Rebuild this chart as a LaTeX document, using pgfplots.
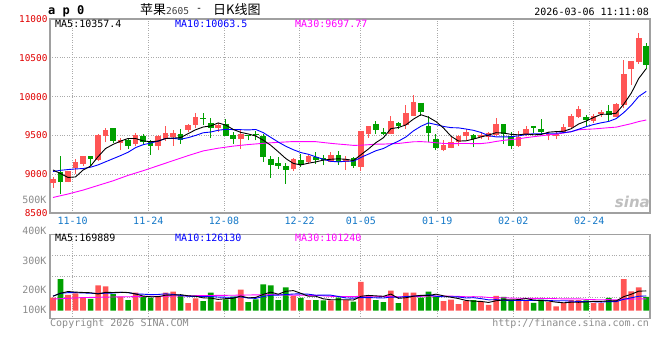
\documentclass[border=0pt]{standalone}
\usepackage{fontspec}
\setmainfont{DejaVu Sans Mono}
\newfontfamily\cjk{Noto Sans CJK SC}
\newfontfamily\sinaf{DejaVu Sans}
\usepackage{pgfplots}
\pgfplotsset{compat=1.18}
\usepackage{pgfplotstable}
\definecolor{cred}{RGB}{255,85,85}
\definecolor{cgreen}{RGB}{0,160,0}
\definecolor{gridc}{RGB}{170,170,170}
\definecolor{axc}{RGB}{160,160,160}
\definecolor{lblred}{RGB}{225,0,0}
\definecolor{lblblue}{RGB}{20,120,200}
\definecolor{txtgray}{RGB}{140,140,140}
\definecolor{mablue}{RGB}{0,0,255}
\definecolor{mamag}{RGB}{255,0,255}

% price moving averages: i MA5 MA10 MA30
\pgfplotstableread{
i m5 m10 m30
0 9055 9035 8700
1 9008 9050 nan
2 8958 9060 8745
3 8965 9068 nan
4 9053 9073 8795
5 9105.2 9090 nan
6 9225.8 9120 8855
7 9331 9160 nan
8 9384 9200 8915
9 9426.6 9239.8 nan
10 9460.6 9282.9 8985
11 9459.6 9342.7 nan
12 9429.6 9380.3 9045
13 9418.4 9401.2 nan
14 9427 9426.8 9110
15 9459.6 9460.1 nan
16 9465.6 9462.6 9175
17 9471.6 9450.6 nan
18 9523.8 9471.1 9240
19 9572.6 9499.8 nan
20 9608.4 9534 9300
21 9622 9543.8 nan
22 9660.6 9566.1 9335
23 9633.2 9578.5 nan
24 9576.8 9574.7 9362
25 9539.2 9573.8 nan
26 9518.8 9570.4 9382
27 9492.2 9576.4 nan
28 9438.4 9535.8 9398
29 9372.6 9474.7 9404.8
30 9288.8 9414 9410.3
31 9201.6 9360.2 9415.6
32 9139.2 9315.7 9420.7
33 9119.6 9279 9419.6
34 9141.8 9257.2 9419.6
35 9158.2 9223.5 9419.1
36 9182 9191.8 9408.3
37 9192.4 9165.8 9397.6
38 9198.4 9159 9388.6
39 9192.4 9167.1 9380.5
40 9176 9167.1 9371.7
41 9250.4 9216.2 9373.4
42 9324.6 9258.5 9380.1
43 9406.6 9302.5 9386.7
44 9469.8 9331.1 9387.7
45 9587.8 9381.9 9393.1
46 9601.6 9426 9396.1
47 9635.8 9480.2 9407.5
48 9710.2 9558.4 9417.7
49 9766.6 9618.2 9420
50 9734.2 9661 9414
51 9677.8 9639.7 9405.4
52 9595 9615.4 9396.5
53 9489.8 9600 9393.8
54 9427.4 9597 9395.1
55 9430 9582.1 9395.8
56 9453 9565.4 9394.4
57 9480.2 9537.6 9394.5
58 9504.2 9497 9404.8
59 9535 9481.2 9422.2
60 9530.6 9480.3 9436.1
61 9513.4 9483.2 9446.4
62 9507.6 9493.9 9455.9
63 9518.6 9511.4 9471.3
64 9508.2 9521.6 9483.2
65 9511.6 9521.1 9495
66 9541.6 9527.5 9506.3
67 9549.2 9528.4 9515.4
68 9553.4 9536 9530.5
69 9585.8 9547 9548.8
70 9647.2 9579.4 9573.6
71 9684.6 9613.1 9578.7
72 9731.4 9640.3 9583.2
73 9771.4 9662.4 9591.3
74 9774 9679.9 9599.5
75 9785.8 9716.5 9606.6
76 9902.4 9793.5 9628.8
77 10043.6 9887.5 9651.2
78 10233.4 10002.4 9678.5
79 10361 10067.5 9698.6
}\pma

% volume (thousands), up days
\pgfplotstableread{
i v
0 113
2 137
3 149
4 113
6 218
7 209
9 122
11 155
14 124
15 155
16 164
18 65
19 106
22 77
25 182
32 128
34 92
37 88
39 92
41 248
42 128
45 173
47 155
48 155
52 83
53 95
54 56
55 83
57 74
58 50
59 128
62 88
63 92
66 74
67 38
68 65
69 92
70 92
72 65
73 65
75 92
76 272
77 167
78 200
}\redvol

% volume (thousands), down days
\pgfplotstableread{
i v
1 272
5 101
8 142
10 92
12 119
13 113
17 133
20 83
21 155
23 97
24 122
26 74
27 97
28 227
29 218
30 92
31 200
33 110
35 92
36 88
38 113
40 77
43 92
44 74
46 65
49 113
50 164
51 124
56 92
60 119
61 92
64 68
65 95
71 88
74 110
79 119
}\greenvol

% volume moving averages (thousands)
\pgfplotstableread{
i m5 m10 m30
0 125 125 100
1 150 150 nan
2 165 155 nan
3 160 155 nan
4 156.8 153 113
5 154.4 150 nan
6 143.6 148 nan
7 158 150 nan
8 156.6 152 118
9 158.4 157.6 nan
10 156.6 155.5 nan
11 144 143.8 nan
12 126 142 122
13 120.2 138.4 nan
14 120.6 139.5 nan
15 133.2 144.9 nan
16 135 139.5 126
17 137.8 131.9 nan
18 128.2 124.2 nan
19 124.6 122.6 nan
20 110.2 121.7 130
21 108.4 121.7 nan
22 97.2 117.5 nan
23 103.6 115.9 nan
24 106.8 115.7 133
25 126.6 118.4 nan
26 110.4 109.4 nan
27 114.4 105.8 nan
28 140.4 122 137
29 159.6 133.2 137.8
30 141.6 134.1 137.1
31 166.8 138.6 134.7
32 173 143.7 134.4
33 149.6 145 133.1
34 124.4 142 132.4
35 124.4 133 132.1
36 102 134.4 127.8
37 94 133.5 123.7
38 94.6 122.1 122.8
39 94.6 109.5 121.8
40 91.6 108 121.3
41 123.6 112.8 124.4
42 131.6 112.8 124.7
43 127.4 111 124
44 123.8 109.2 122.3
45 143 117.3 122.9
46 106.4 115 119.6
47 111.8 121.7 120.3
48 124.4 125.9 123.3
49 132.2 128 123.6
50 130.4 136.7 126.3
51 142.2 124.3 125.2
52 127.8 119.8 125.4
53 115.8 120.1 125.4
54 104.4 118.3 123.2
55 88.2 109.3 119.9
56 81.8 112 120.5
57 80 103.9 119.7
58 71 93.4 113.8
59 85.4 94.9 110.8
60 92.6 90.4 111.7
61 92.6 87.2 108.1
62 95.4 87.7 106.8
63 103.8 87.4 106.2
64 91.8 88.6 105.4
65 87 89.8 105.5
66 83.4 88 105
67 73.4 84.4 103.3
68 68 85.9 101.7
69 72.8 82.3 101.7
70 72.2 79.6 102.2
71 75 79.2 96.9
72 80.4 76.9 94.8
73 80.4 74.2 93.9
74 84 78.4 95.1
75 84 78.1 92.4
76 120.8 97.9 99.3
77 141.2 110.8 99.7
78 168.2 124.3 101.2
79 170 127 101.4
}\vma

\pgfplotsset{
  panel/.style={
    scale only axis, width=600pt, anchor=south west,
    xmin=-0.4, xmax=79.5,
    scaled x ticks=false, scaled y ticks=false,
    axis line style={axc, line width=1.2pt},
    grid=major, major grid style={gridc, dotted, line width=0.8pt},
    major tick length=0pt, tick style={draw=none},
    xtick={2.62,12.69,22.77,32.84,41.0,51.17,61.29,71.41},
  },
}

\begin{document}
\begin{tikzpicture}
\fill[white] (0pt,0pt) rectangle (660pt,360pt);
\path[use as bounding box] (0pt,0pt) rectangle (660pt,360pt);

% ---------------- price panel ----------------
\begin{axis}[panel, at={(50pt,147pt)}, height=194pt,
  ymin=8500, ymax=11000,
  ytick={8500,9000,9500,10000,10500,11000},
  yticklabels={8500,9000,9500,10000,10500,11000},
  xticklabels={11-10,11-24,12-08,12-22,01-05,01-19,02-02,02-24},
  xticklabel style={font=\fontsize{10}{10}\selectfont, text=lblblue, yshift=-0.5pt},
  yticklabel style={font=\fontsize{9.4}{10}\selectfont, text=lblred, xshift=1pt},
  unbounded coords=jump]
% wicks of up (red) candles
\addplot[cred, line width=1pt] coordinates {
(0,8825)(0,8970)(0,nan) (2,8895)(2,9045)(2,nan) (3,9000)(3,9192)(3,nan) (4,9105)(4,9240)(4,nan)
(6,9165)(6,9520)(6,nan) (7,9414)(7,9594)(7,nan) (9,9308)(9,9466)(9,nan) (11,9359)(11,9530)(11,nan)
(14,9308)(14,9508)(14,nan) (15,9427)(15,9615)(15,nan) (16,9367)(16,9573)(16,nan) (18,9543)(18,9650)(18,nan)
(19,9594)(19,9795)(19,nan) (22,9543)(22,9658)(22,nan) (25,9325)(25,9581)(25,nan) (32,9043)(32,9209)(32,nan)
(34,9137)(34,9244)(34,nan) (37,9154)(37,9286)(37,nan) (39,9051)(39,9239)(39,nan) (41,9043)(41,9551)(41,nan)
(42,9470)(42,9615)(42,nan) (45,9513)(45,9748)(45,nan) (47,9581)(47,9897)(47,nan) (48,9748)(48,10026)(48,nan)
(52,9295)(52,9436)(52,nan) (53,9333)(53,9479)(53,nan) (54,9363)(54,9508)(54,nan) (55,9444)(55,9585)(55,nan)
(57,9457)(57,9543)(57,nan) (58,9444)(58,9543)(58,nan) (59,9491)(59,9718)(59,nan) (62,9350)(62,9551)(62,nan)
(63,9487)(63,9615)(63,nan) (66,9436)(66,9547)(66,nan) (67,9453)(67,9538)(67,nan) (68,9538)(68,9649)(68,nan)
(69,9594)(69,9777)(69,nan) (70,9730)(70,9879)(70,nan) (72,9666)(72,9777)(72,nan) (73,9743)(73,9828)(73,nan)
(75,9734)(75,9921)(75,nan) (76,9849)(76,10474)(76,nan) (77,10147)(77,10457)(77,nan) (78,10423)(78,10823)(78,nan)
};
% bodies of up candles: open -> close
\addplot[cred, line width=5.6pt] coordinates {
(0,8885)(0,8936)(0,nan) (2,8902)(2,9038)(2,nan) (3,9080)(3,9158)(3,nan) (4,9137)(4,9231)(4,nan)
(6,9180)(6,9505)(6,nan) (7,9491)(7,9564)(7,nan) (9,9406)(9,9444)(9,nan) (11,9389)(11,9500)(11,nan)
(14,9363)(14,9487)(14,nan) (15,9457)(15,9530)(15,nan) (16,9479)(16,9530)(16,nan) (18,9568)(18,9628)(18,nan)
(19,9632)(19,9731)(19,nan) (22,9598)(22,9637)(22,nan) (25,9449)(25,9521)(25,nan) (32,9064)(32,9192)(32,nan)
(34,9154)(34,9231)(34,nan) (37,9162)(37,9244)(37,nan) (39,9162)(39,9201)(39,nan) (41,9094)(41,9551)(41,nan)
(42,9521)(42,9615)(42,nan) (45,9521)(45,9692)(45,nan) (47,9628)(47,9786)(47,nan) (48,9756)(48,9936)(48,nan)
(52,9308)(52,9372)(52,nan) (53,9338)(53,9410)(53,nan) (54,9410)(54,9487)(54,nan) (55,9491)(55,9543)(55,nan)
(57,9479)(57,9508)(57,nan) (58,9479)(58,9530)(58,nan) (59,9500)(59,9641)(59,nan) (62,9363)(62,9479)(62,nan)
(63,9500)(63,9585)(63,nan) (66,9500)(66,9517)(66,nan) (67,9487)(67,9517)(67,nan) (68,9547)(68,9606)(68,nan)
(69,9602)(69,9751)(69,nan) (70,9743)(70,9845)(70,nan) (72,9683)(72,9751)(72,nan) (73,9781)(73,9806)(73,nan)
(75,9743)(75,9904)(75,nan) (76,9892)(76,10287)(76,nan) (77,10351)(77,10457)(77,nan) (78,10445)(78,10755)(78,nan)
};
% wicks of down (green) candles
\addplot[cgreen, line width=1pt] coordinates {
(1,8743)(1,9235)(1,nan) (5,9100)(5,9231)(5,nan) (8,9400)(8,9590)(8,nan) (10,9325)(10,9466)(10,nan)
(12,9385)(12,9517)(12,nan) (13,9252)(13,9444)(13,nan) (17,9393)(17,9585)(17,nan) (20,9637)(20,9795)(20,nan)
(21,9466)(21,9718)(21,nan) (23,9491)(23,9714)(23,nan) (24,9393)(24,9538)(24,nan) (26,9436)(26,9510)(26,nan)
(27,9436)(27,9555)(27,nan) (28,9158)(28,9521)(28,nan) (29,8957)(29,9231)(29,nan) (30,9073)(30,9218)(30,nan)
(31,8880)(31,9145)(31,nan) (33,9094)(33,9265)(33,nan) (35,9137)(35,9286)(35,nan) (36,9115)(36,9244)(36,nan)
(38,9120)(38,9299)(38,nan) (40,9085)(40,9222)(40,nan) (43,9521)(43,9692)(43,nan) (44,9500)(44,9598)(44,nan)
(46,9585)(46,9675)(46,nan) (49,9756)(49,9923)(49,nan) (50,9415)(50,9744)(50,nan) (51,9308)(51,9513)(51,nan)
(56,9350)(56,9521)(56,nan) (60,9393)(60,9641)(60,nan) (61,9320)(61,9543)(61,nan) (64,9530)(64,9623)(64,nan)
(65,9509)(65,9717)(65,nan) (71,9615)(71,9760)(71,nan) (74,9692)(74,9892)(74,nan) (79,10351)(79,10687)(79,nan)
};
% bodies of down candles: open -> close
\addplot[cgreen, line width=5.6pt] coordinates {
(1,9030)(1,8902)(1,nan) (5,9231)(5,9197)(5,nan) (8,9590)(8,9423)(8,nan) (10,9444)(10,9367)(10,nan)
(12,9487)(12,9414)(12,nan) (13,9427)(13,9367)(13,nan) (17,9513)(17,9444)(17,nan) (20,9720)(20,9707)(20,nan)
(21,9662)(21,9598)(21,nan) (23,9650)(23,9491)(23,nan) (24,9500)(24,9449)(24,nan) (26,9508)(26,9496)(26,nan)
(27,9521)(27,9504)(27,nan) (28,9487)(28,9222)(28,nan) (29,9201)(29,9120)(29,nan) (30,9141)(30,9102)(30,nan)
(31,9102)(31,9060)(31,nan) (33,9179)(33,9124)(33,nan) (35,9218)(35,9184)(35,nan) (36,9205)(36,9179)(36,nan)
(38,9244)(38,9154)(38,nan) (40,9214)(40,9102)(40,nan) (43,9641)(43,9564)(43,nan) (44,9543)(44,9517)(44,nan)
(46,9658)(46,9620)(46,nan) (49,9923)(49,9799)(49,nan) (50,9615)(50,9530)(50,nan) (51,9449)(51,9338)(51,nan)
(56,9500)(56,9453)(56,nan) (60,9641)(60,9521)(60,nan) (61,9487)(61,9367)(61,nan) (64,9623)(64,9589)(64,nan)
(65,9585)(65,9538)(65,nan) (71,9738)(71,9704)(71,nan) (74,9815)(74,9764)(74,nan) (79,10657)(79,10402)(79,nan)
};
\addplot[mamag, line width=0.9pt, unbounded coords=discard] table[x=i, y=m30] {\pma};
\addplot[mablue, line width=0.9pt, unbounded coords=discard] table[x=i, y=m10] {\pma};
\addplot[black, line width=0.9pt, unbounded coords=discard] table[x=i, y=m5] {\pma};
\end{axis}

% ---------------- volume panel ----------------
\begin{axis}[panel, at={(50pt,41.7pt)}, height=84pt,
  ymin=-65.4, ymax=657,
  ytick={116,295,476},
  xticklabels={}, yticklabels={}]
\addplot[ybar, bar width=5.6pt, bar shift=0pt, fill=cred, draw=none] table[x=i, y=v] {\redvol};
\addplot[ybar, bar width=5.6pt, bar shift=0pt, fill=cgreen, draw=none] table[x=i, y=v] {\greenvol};
\addplot[mamag, line width=0.9pt, unbounded coords=discard] table[x=i, y=m30] {\vma};
\addplot[mablue, line width=0.9pt, unbounded coords=discard] table[x=i, y=m10] {\vma};
\addplot[black, line width=0.9pt, unbounded coords=discard] table[x=i, y=m5] {\vma};
\end{axis}

% ---------------- texts ----------------
\node[anchor=west, inner sep=0pt, font=\fontsize{12}{12}\selectfont\bfseries] at (48pt,349pt) {a p 0};
\node[anchor=west, inner sep=0pt] at (140pt,350pt) {{\cjk\fontsize{13}{13}\selectfont 苹果}{\fontsize{9.5}{9.5}\selectfont\color{darkgray}2605}};
\node[anchor=west, inner sep=0pt, font=\fontsize{10}{10}\selectfont] at (196pt,350pt) {-};
\node[anchor=west, inner sep=0pt] at (213pt,350pt) {\cjk\fontsize{13}{13}\selectfont 日K线图};
\node[anchor=east, inner sep=0pt, font=\fontsize{10}{10}\selectfont] at (649pt,348pt) {2026-03-06 11:11:08};

\node[anchor=west, inner sep=0pt, font=\fontsize{10}{10}\selectfont, text=black] at (55pt,336pt) {MA5:10357.4};
\node[anchor=west, inner sep=0pt, font=\fontsize{10}{10}\selectfont, text=mablue] at (175pt,336pt) {MA10:10063.5};
\node[anchor=west, inner sep=0pt, font=\fontsize{10}{10}\selectfont, text=mamag] at (295pt,336pt) {MA30:9697.77};

\node[anchor=west, inner sep=0pt, font=\fontsize{10}{10}\selectfont, text=black] at (55pt,121.7pt) {MA5:169889};
\node[anchor=west, inner sep=0pt, font=\fontsize{10}{10}\selectfont, text=mablue] at (175pt,121.7pt) {MA10:126130};
\node[anchor=west, inner sep=0pt, font=\fontsize{10}{10}\selectfont, text=mamag] at (295pt,121.7pt) {MA30:101240};

\node[anchor=east, inner sep=0pt, font=\fontsize{10}{10}\selectfont, text=txtgray] at (46.7pt,160pt) {500K};
\node[anchor=east, inner sep=0pt, font=\fontsize{10}{10}\selectfont, text=txtgray] at (46.7pt,129.3pt) {400K};
\node[anchor=east, inner sep=0pt, font=\fontsize{10}{10}\selectfont, text=txtgray] at (46.7pt,99.3pt) {300K};
\node[anchor=east, inner sep=0pt, font=\fontsize{10}{10}\selectfont, text=txtgray] at (46.7pt,70pt) {200K};
\node[anchor=east, inner sep=0pt, font=\fontsize{10}{10}\selectfont, text=txtgray] at (46.7pt,50pt) {100K};

\node[anchor=west, inner sep=0pt, font=\fontsize{10}{10}\selectfont, text=txtgray] at (50pt,36pt) {Copyright 2026 SINA.COM};
\node[anchor=east, inner sep=0pt, font=\fontsize{10}{10}\selectfont, text=txtgray] at (649pt,36pt) {http://finance.sina.com.cn};

\node[anchor=east, inner sep=0pt, text=black!25, font=\sinaf\fontsize{15}{15}\selectfont\bfseries\itshape] at (650pt,158pt) {sina};
\end{tikzpicture}
\end{document}
